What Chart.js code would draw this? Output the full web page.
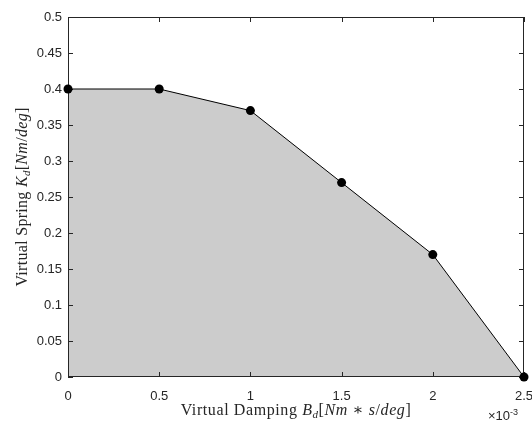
<!DOCTYPE html>
<html>
<head>
<meta charset="utf-8">
<script src="https://cdn.jsdelivr.net/npm/chart.js@4.4.1/dist/chart.umd.min.js"></script>
<style>
  html, body { margin: 0; padding: 0; background: #fff; }
  #frontier { display: block; }
</style>
</head>
<body>
<canvas id="frontier" width="532" height="423"></canvas>
<script>
// virtual damping (Nm*s/deg) against the largest stable virtual spring (Nm/deg)
const dampingValues = [0, 0.0005, 0.001, 0.0015, 0.002, 0.0025];
const springValues = [0.4, 0.4, 0.37, 0.27, 0.17, 0];

const xTickValues = [0, 0.0005, 0.001, 0.0015, 0.002, 0.0025];
const yTickValues = [0, 0.05, 0.1, 0.15, 0.2, 0.25, 0.3, 0.35, 0.4, 0.45, 0.5];
const xScaleFactor = 1000;
const xExponentText = ["\u00d710", "-3"];

// axis titles as [text, style] runs: n = upright, i = italic, sub = italic subscript
const xTitleRuns = [["Virtual Damping ", "n"], ["B", "i"], ["d", "sub"], ["[", "n"], ["Nm", "i"],
    [" \u2217 ", "n"], ["s", "i"], ["/", "n"], ["deg", "i"], ["]", "n"]];
const yTitleRuns = [["Virtual Spring ", "n"], ["K", "i"], ["d", "sub"], ["[", "n"], ["Nm", "i"],
    ["/", "n"], ["deg", "i"], ["]", "n"]];

const axisColor = "#262626";
const serif = "'Liberation Serif', 'DejaVu Serif', serif";
const sans = "'Liberation Sans', Arial, sans-serif";
const titleSize = 16;

function runFont(style, size) {
    if (style === "n") return `${size}px ${serif}`;
    if (style === "sub") return `italic ${Math.round(size * 0.7)}px ${serif}`;
    return `italic ${size}px ${serif}`;
}

// draws runs centred on x with baseline at y
function drawRuns(ctx, runs, size, x, y, spacing) {
    ctx.letterSpacing = spacing + "px";
    let total = 0;
    const widths = runs.map(([t, s]) => {
        ctx.font = runFont(s, size);
        const w = ctx.measureText(t).width;
        total += w;
        return w;
    });
    let cx = x - total / 2;
    ctx.textAlign = "left";
    ctx.textBaseline = "alphabetic";
    runs.forEach(([t, s], i) => {
        ctx.font = runFont(s, size);
        ctx.fillText(t, cx, s === "sub" ? y + size * 0.18 : y);
        cx += widths[i];
    });
    ctx.letterSpacing = "0px";
}

const boxPlugin = {
    id: "matlabBox",
    beforeDatasetsDraw(chart) {
        const { ctx, chartArea: a, scales } = chart;
        const tick = 5;
        ctx.save();
        ctx.strokeStyle = axisColor;
        ctx.lineWidth = 1;
        ctx.beginPath();
        ctx.rect(a.left + 0.5, a.top + 0.5, a.right - a.left - 1, a.bottom - a.top - 1);
        scales.x.ticks.forEach(t => {
            const px = Math.round(scales.x.getPixelForValue(t.value)) + 0.5;
            ctx.moveTo(px, a.bottom);
            ctx.lineTo(px, a.bottom - tick);
            ctx.moveTo(px, a.top);
            ctx.lineTo(px, a.top + tick);
        });
        scales.y.ticks.forEach(t => {
            const py = Math.round(scales.y.getPixelForValue(t.value)) + 0.5;
            ctx.moveTo(a.left, py);
            ctx.lineTo(a.left + tick, py);
            ctx.moveTo(a.right, py);
            ctx.lineTo(a.right - tick, py);
        });
        ctx.stroke();
        ctx.restore();
    },
    afterDraw(chart) {
        const { ctx, chartArea: a } = chart;
        ctx.save();
        ctx.fillStyle = axisColor;
        drawRuns(ctx, xTitleRuns, titleSize, (a.left + a.right) / 2, 415, 0.6);

        ctx.save();
        ctx.translate(27, (a.top + a.bottom) / 2);
        ctx.rotate(-Math.PI / 2);
        drawRuns(ctx, yTitleRuns, titleSize, 0, 0, 0.3);
        ctx.restore();

        // exponent of the x axis
        ctx.textAlign = "left";
        ctx.textBaseline = "alphabetic";
        ctx.font = `13px ${sans}`;
        const x0 = 488;
        ctx.fillText(xExponentText[0], x0, 420);
        const w = ctx.measureText(xExponentText[0]).width;
        ctx.font = `9px ${sans}`;
        ctx.fillText(xExponentText[1], x0 + w, 415);
        ctx.restore();
    }
};

new Chart(document.getElementById("frontier"), {
    type: "line",
    data: {
        datasets: [{
            data: dampingValues.map((d, i) => ({ x: d, y: springValues[i] })),
            borderColor: "#000000",
            borderWidth: 1,
            backgroundColor: "#cccccc",
            fill: "origin",
            tension: 0,
            pointRadius: 4.5,
            pointHoverRadius: 4.5,
            pointBackgroundColor: "#000000",
            pointBorderColor: "#000000",
            pointBorderWidth: 0,
            clip: false
        }]
    },
    options: {
        responsive: false,
        animation: false,
        events: [],
        layout: { padding: { top: 17, right: 8, left: 0, bottom: 0 } },
        plugins: {
            legend: { display: false },
            tooltip: { enabled: false },
            filler: { drawTime: "beforeDatasetsDraw" }
        },
        scales: {
            x: {
                type: "linear",
                min: 0,
                max: 0.0025,
                afterBuildTicks: s => { s.ticks = xTickValues.map(v => ({ value: v })); },
                afterFit: s => {
                    s.height = 46;
                    s.paddingLeft = 0;
                    s.paddingRight = 0;
                },
                grid: { display: false, drawTicks: false },
                border: { display: false },
                ticks: {
                    padding: 12,
                    maxRotation: 0,
                    color: axisColor,
                    font: { family: sans, size: 13 },
                    callback: v => String(+(v * xScaleFactor).toFixed(2))
                }
            },
            y: {
                type: "linear",
                min: 0,
                max: 0.5,
                afterBuildTicks: s => { s.ticks = yTickValues.map(v => ({ value: v })); },
                afterFit: s => {
                    s.width = 68;
                    s.paddingTop = 0;
                    s.paddingBottom = 0;
                },
                grid: { display: false, drawTicks: false },
                border: { display: false },
                ticks: {
                    padding: 6,
                    color: axisColor,
                    font: { family: sans, size: 13 },
                    callback: v => String(+v.toFixed(2))
                }
            }
        }
    },
    plugins: [boxPlugin]
});
</script>
</body>
</html>
